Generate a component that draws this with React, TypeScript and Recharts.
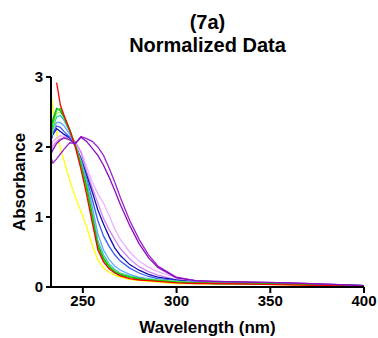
import React from 'react';
import { LineChart, Line, XAxis, YAxis, Label } from 'recharts';

const wavelengths = [233, 234, 236, 238, 240, 243, 246, 249, 252, 255, 258, 261, 264, 267, 270, 275, 280, 285, 290, 300, 310, 320, 340, 360, 380, 400];

const red = [null, null, 2.92, 2.6, 2.45, 2.24, 2.0, 1.68, 1.32, 0.92, 0.53, 0.36, 0.26, 0.2, 0.16, 0.12, 0.1, 0.09, 0.08, 0.06, 0.05, 0.05, 0.04, 0.03, 0.02, 0.01];
const yellow = [2.78, 2.55, 2.2, 1.98, 1.8, 1.52, 1.28, 1.08, 0.86, 0.6, 0.39, 0.27, 0.21, 0.17, 0.14, 0.11, 0.09, 0.08, 0.07, 0.05, 0.05, 0.04, 0.04, 0.03, 0.02, 0.01];
const green = [2.15, 2.35, 2.53, 2.55, 2.44, 2.25, 2.02, 1.73, 1.4, 0.98, 0.56, 0.39, 0.28, 0.21, 0.17, 0.14, 0.11, 0.1, 0.09, 0.07, 0.06, 0.05, 0.05, 0.04, 0.03, 0.02];
const darkGreen = [2.2, 2.4, 2.55, 2.52, 2.42, 2.24, 2.02, 1.75, 1.43, 1.02, 0.6, 0.41, 0.29, 0.22, 0.18, 0.14, 0.12, 0.1, 0.09, 0.07, 0.06, 0.05, 0.05, 0.04, 0.03, 0.02];
const lime = [2.12, 2.3, 2.48, 2.5, 2.42, 2.24, 2.03, 1.77, 1.45, 1.05, 0.62, 0.43, 0.31, 0.23, 0.19, 0.15, 0.12, 0.11, 0.1, 0.08, 0.06, 0.05, 0.05, 0.04, 0.03, 0.02];
const cyan = [2.1, 2.28, 2.43, 2.45, 2.38, 2.22, 2.02, 1.78, 1.48, 1.08, 0.66, 0.46, 0.33, 0.25, 0.2, 0.16, 0.13, 0.11, 0.1, 0.08, 0.06, 0.05, 0.05, 0.04, 0.03, 0.02];
const lightBlue = [2.12, 2.25, 2.35, 2.35, 2.3, 2.18, 2.01, 1.8, 1.52, 1.15, 0.76, 0.53, 0.39, 0.3, 0.24, 0.18, 0.14, 0.12, 0.1, 0.08, 0.07, 0.06, 0.05, 0.04, 0.03, 0.02];
const blue = [2.1, 2.2, 2.3, 2.28, 2.22, 2.14, 2.02, 1.82, 1.55, 1.25, 0.95, 0.73, 0.58, 0.46, 0.37, 0.27, 0.2, 0.15, 0.12, 0.09, 0.07, 0.06, 0.05, 0.04, 0.03, 0.02];
const navy = [2.1, 2.18, 2.26, 2.22, 2.18, 2.13, 2.02, 1.84, 1.6, 1.36, 1.1, 0.9, 0.72, 0.56, 0.45, 0.32, 0.24, 0.18, 0.14, 0.1, 0.07, 0.06, 0.05, 0.04, 0.03, 0.02];
const lavender = [2.0, 2.08, 2.13, 2.16, 2.15, 2.12, 2.06, 1.94, 1.72, 1.5, 1.33, 1.2, 1.02, 0.83, 0.68, 0.5, 0.37, 0.28, 0.22, 0.13, 0.09, 0.07, 0.06, 0.05, 0.03, 0.02];
const orchid = [1.95, 2.02, 2.08, 2.12, 2.13, 2.13, 2.08, 1.92, 1.65, 1.42, 1.2, 0.98, 0.82, 0.68, 0.55, 0.4, 0.29, 0.22, 0.17, 0.1, 0.08, 0.07, 0.06, 0.05, 0.03, 0.02];
const purple1 = [1.85, 1.77, 1.83, 1.9, 1.97, 2.06, 2.05, 2.15, 2.12, 2.08, 2.0, 1.88, 1.7, 1.5, 1.28, 0.95, 0.68, 0.46, 0.3, 0.14, 0.09, 0.08, 0.07, 0.06, 0.04, 0.02];
const purple2 = [1.9, 1.96, 2.05, 2.1, 2.13, 2.1, 2.05, 2.14, 2.08, 1.98, 1.88, 1.74, 1.57, 1.38, 1.18, 0.88, 0.62, 0.42, 0.28, 0.13, 0.09, 0.08, 0.07, 0.06, 0.04, 0.02];

const xTicks = [250, 300, 350, 400];
const yTicks = [0, 1, 2, 3];

const seriesList = [
  { key: 'yellow', values: yellow, color: '#ffff00' },
  { key: 'lavender', values: lavender, color: '#eeb0ff' },
  { key: 'orchid', values: orchid, color: '#d383f2' },
  { key: 'navy', values: navy, color: '#1010b0' },
  { key: 'blue', values: blue, color: '#3a5cf5' },
  { key: 'lightBlue', values: lightBlue, color: '#66aaff' },
  { key: 'cyan', values: cyan, color: '#22c0c0' },
  { key: 'lime', values: lime, color: '#99ee66' },
  { key: 'darkGreen', values: darkGreen, color: '#18a018' },
  { key: 'green', values: green, color: '#00dd00' },
  { key: 'red', values: red, color: '#ff0000' },
  { key: 'purple1', values: purple1, color: '#9b24cc' },
  { key: 'purple2', values: purple2, color: '#8a0cbd' },
];

const data = wavelengths.map((w, i) => {
  const row: Record<string, number | null> = { w };
  seriesList.forEach((s) => {
    row[s.key] = s.values[i];
  });
  return row;
});

const FONT = '"Liberation Sans", Arial, sans-serif';
const tickStyle = { fill: '#000', fontSize: 15, fontWeight: 'bold', fontFamily: FONT };

export default function App() {
  return (
    <div style={{ position: 'absolute', left: 0, top: 0, width: 378, height: 338, background: '#fff' }}>
      <div style={{ position: 'absolute', left: 51, width: 313, top: 11, textAlign: 'center', fontFamily: FONT, fontWeight: 'bold', fontSize: 20, lineHeight: '23px', color: '#000' }}>
        (7a)
        <br />
        Normalized Data
      </div>
      <LineChart width={378} height={338} data={data} margin={{ top: 77, right: 14, bottom: 0, left: 0 }}>
        <XAxis
          dataKey="w"
          type="number"
          domain={[233, 400]}
          ticks={xTicks}
          allowDataOverflow
          height={51}
          tick={tickStyle}
          tickSize={6}
          tickMargin={2}
          axisLine={{ stroke: '#000', strokeWidth: 2 }}
          tickLine={{ stroke: '#000', strokeWidth: 2 }}
        >
          <Label value="Wavelength (nm)" position="insideBottom" offset={5} style={{ fill: '#000', fontSize: 17, fontWeight: 'bold', fontFamily: FONT }} />
        </XAxis>
        <YAxis
          type="number"
          domain={[0, 3]}
          ticks={yTicks}
          allowDataOverflow
          width={51}
          tick={tickStyle}
          tickSize={5}
          tickMargin={3}
          axisLine={{ stroke: '#000', strokeWidth: 2 }}
          tickLine={{ stroke: '#000', strokeWidth: 2 }}
        >
          <Label value="Absorbance" angle={-90} position="insideLeft" offset={19} style={{ fill: '#000', fontSize: 17, fontWeight: 'bold', fontFamily: FONT, textAnchor: 'middle' }} />
        </YAxis>
        {seriesList.map((s) => (
          <Line
            key={s.key}
            dataKey={s.key}
            stroke={s.color}
            strokeWidth={1.3}
            dot={false}
            isAnimationActive={false}
            connectNulls={false}
            type="linear"
          />
        ))}
      </LineChart>
    </div>
  );
}
